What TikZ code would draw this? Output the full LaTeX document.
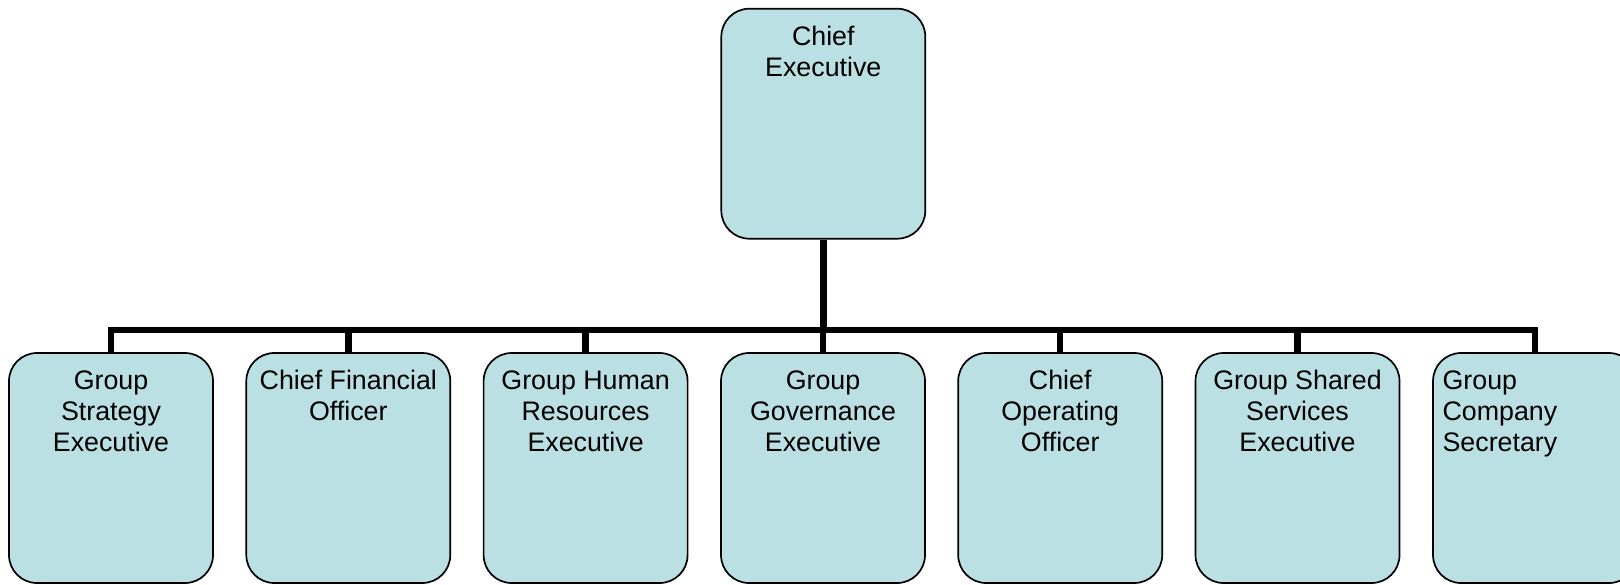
\documentclass[tikz,border=0pt]{standalone}
\usepackage{fontspec}
\setmainfont{Liberation Sans}
\definecolor{boxblue}{RGB}{187,224,227}
\tikzset{
  post/.style={draw,fill=boxblue,rounded corners=14pt,line width=.85pt,
    minimum width=102pt,minimum height=115pt,inner sep=0pt},
  title/.style={anchor=north,yshift=-8.9pt,inner sep=0pt,align=center,
    font=\fontsize{13.4}{15.5}\selectfont},
  bus/.style={line width=3.2pt,line join=miter}
}
\begin{document}
\begin{tikzpicture}
  [x=.5pt,y=-.5pt]
  \useasboundingbox (0,0) rectangle (1620,584);
  \node[post,label={[title]north:{Chief\\Executive}}] (ce) at (823.3,123.7) {};
  \coordinate (hub) at (823.3,330);

  \foreach \name/\x/\txt in {gse/111/{Group\\Strategy\\Executive},
      cfo/348.3/{Chief Financial\\Officer},
      ghr/585.6/{Group Human\\Resources\\Executive},
      ggov/823/{Group\\Governance\\Executive},
      coo/1060.2/{Chief\\Operating\\Officer},
      gss/1297.5/{Group Shared\\Services\\Executive}}
    \node[post,label={[title]north:\txt}] (\name) at (\x,468) {};
  \node[post,label={[title,anchor=north west,xshift=5pt,align=left]north west:{Group\\Company\\Secretary}}]
    (gcs) at (1535,468) {};

  \draw[bus] (ce) -- (hub);
  \draw[bus] (gse.north) -- (gse.north |- hub) -- (gcs.north |- hub) -- (gcs.north);
  \foreach \name in {cfo,ghr,ggov,coo,gss}
    \draw[bus] (\name.north) -- (\name.north |- hub);
\end{tikzpicture}
\end{document}
